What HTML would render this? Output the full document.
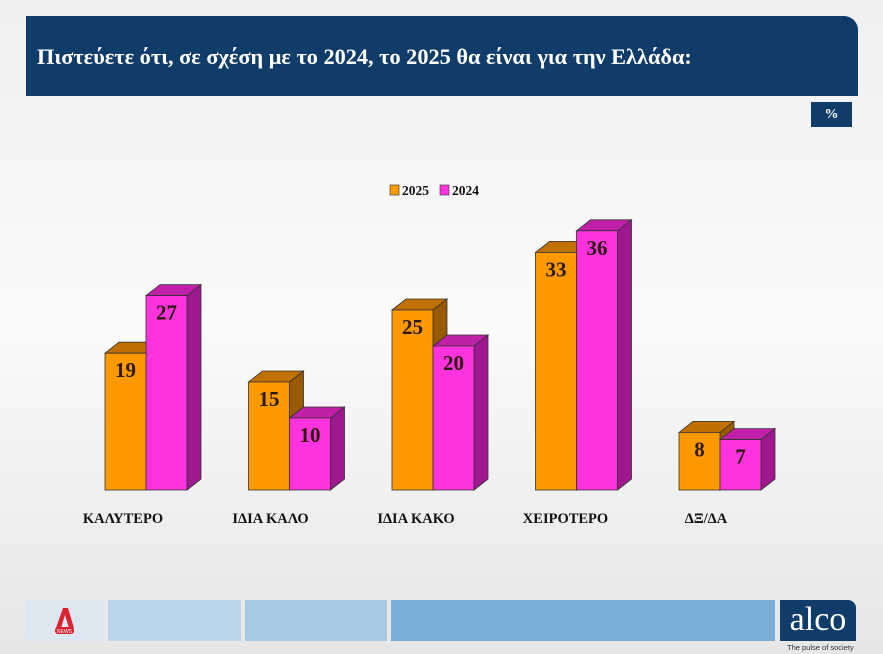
<!DOCTYPE html>
<html><head><meta charset="utf-8"><style>
body{margin:0;width:883px;height:654px;overflow:hidden;background:linear-gradient(180deg,#f0f0f0,#fafafa 50%,#e6e6e6);font-family:"Liberation Serif",serif;position:relative}
.abs{position:absolute}
</style></head><body>
<div class="abs" style="left:26px;top:16px;width:832px;height:80px;background:#0f3c68;border-top-right-radius:14px"></div>
<div class="abs" style="left:37px;top:44px;color:#fff;font-weight:bold;font-size:22.3px">Πιστεύετε ότι, σε σχέση με το 2024, το 2025 θα είναι για την Ελλάδα:</div>
<div class="abs" style="left:811px;top:102px;width:41px;height:25px;background:#0f3c68;color:#fff;font-weight:bold;font-size:14px;text-align:center;line-height:25px">%</div>
<svg class="abs" style="left:0;top:0" width="883" height="654" id="chart"></svg>
<div class="abs" style="left:26px;top:600px;width:78px;height:41px;background:#dde7f1"></div>
<svg class="abs" style="left:50px;top:606px" width="30" height="30"><path d="M6 22 L13 2 L18 2 L24 22 L19 22 L15 9 L11 22Z" fill="#d9232e"/><rect x="5" y="21" width="19" height="7" rx="3" fill="#d9232e"/><text x="14.5" y="27" font-size="5" fill="#fff" text-anchor="middle" font-family="Liberation Sans">NEWS</text></svg>
<div class="abs" style="left:108px;top:600px;width:133px;height:41px;background:#bdd5ea"></div>
<div class="abs" style="left:245px;top:600px;width:142px;height:41px;background:#a6c9e5"></div>
<div class="abs" style="left:391px;top:600px;width:384px;height:41px;background:#7aaed7"></div>
<div class="abs" style="left:780px;top:600px;width:76px;height:41px;background:#0f3c68;border-top-right-radius:8px;color:#fff;font-size:34px;text-align:center;line-height:40px">alco</div>
<div class="abs" style="left:787px;top:643px;font-family:'Liberation Sans',sans-serif;font-size:7.5px;color:#333">The pulse of society</div>
<script>
const categories=["ΚΑΛΥΤΕΡΟ","ΙΔΙΑ ΚΑΛΟ","ΙΔΙΑ ΚΑΚΟ","ΧΕΙΡΟΤΕΡΟ","ΔΞ/ΔΑ"];
const series2025=[19,15,25,33,8];
const series2024=[27,10,20,36,7];
const seriesNames=["2025","2024"];
const svg=document.getElementById('chart');const NS='http://www.w3.org/2000/svg';
const base=490,unit=7.2,bw=41,dx=14,dy=11;
const xg=i=>105+i*143.5;const yv=v=>base-v*unit;
function el(t,a,p){const e=document.createElementNS(NS,t);for(const k in a)e.setAttribute(k,a[k]);(p||svg).appendChild(e);return e;}
const cols=[["#ff9900","#c07000","#9a5a00"],["#ff33dd","#c020a8","#a01890"]];
[series2025,series2024].forEach((s,si)=>{s.forEach((v,i)=>{
 const x=xg(i)+si*bw,y=yv(v);
 const g=el('g',{});
 
 
 el('polygon',{points:`${x+bw},${y} ${x+bw+dx},${y-dy} ${x+bw+dx},${base-dy} ${x+bw},${base}`,fill:cols[si][2],stroke:'#333','stroke-width':0.8},g);
 el('polygon',{points:`${x},${y} ${x+dx},${y-dy} ${x+bw+dx},${y-dy} ${x+bw},${y}`,fill:cols[si][1],stroke:'#333','stroke-width':0.8},g);
 el('rect',{x:x,y:y,width:bw,height:base-y,fill:cols[si][0],stroke:'#333','stroke-width':0.8},g);
 const t=el('text',{x:x+bw/2,y:y+24,'text-anchor':'middle','font-size':21,'font-weight':'bold',fill:'#2a1a10'},g);t.textContent=v;
 
 
});});
const labOff=[18,22,24,30,27];
categories.forEach((c,i)=>{const t=el('text',{x:xg(i)+labOff[i],y:523,'text-anchor':'middle','font-size':14.5,'font-weight':'bold',fill:'#111'});t.textContent=c;
 
 });
seriesNames.forEach((n,i)=>{const x=390+i*50;
 const g=el('g',{});
 
 
 el('rect',{x:x,y:185,width:9,height:10,fill:cols[i][0],stroke:'#333','stroke-width':0.6},g);
 const t=el('text',{x:x+12,y:195,'font-size':13.5,'font-weight':'bold',fill:'#111'},g);t.textContent=n;});
</script>
</body></html>
